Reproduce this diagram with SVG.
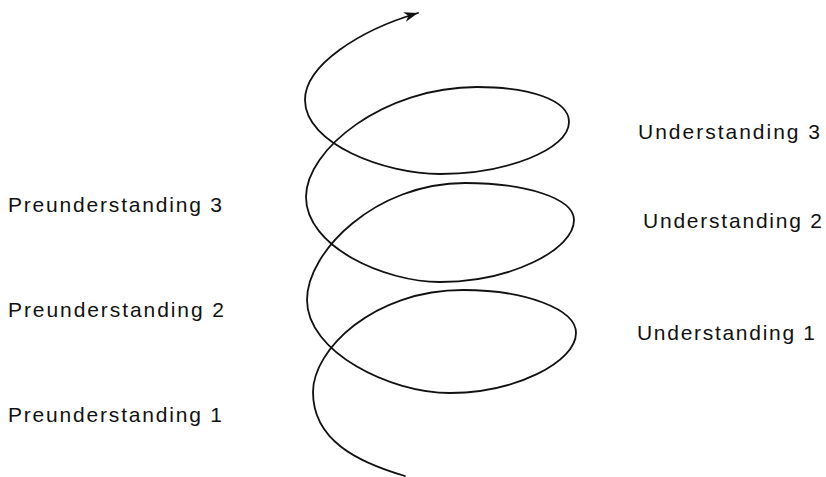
<svg xmlns="http://www.w3.org/2000/svg" width="826" height="477" viewBox="0 0 826 477">
  <style>
    .lbl { font-family: "Liberation Sans", Arial, sans-serif; font-size: 21px; fill: #111; }
    .spiral { fill: none; stroke: #111; stroke-width: 1.8; stroke-linecap: round; stroke-linejoin: round; }
  </style>
  <defs>
    <marker id="arrow" markerUnits="userSpaceOnUse" markerWidth="16" markerHeight="12" refX="14" refY="6" orient="auto">
      <path d="M0,1 L14,6 L0,11 L4,6 z" fill="#111"/>
    </marker>
  </defs>
  <rect width="826" height="477" fill="#fff"/>
  <g id="connectors">
    <path class="spiral" marker-end="url(#arrow)" d="M405,476 C357,462 313,440 313,392 C313,350 373,290 463,290 C525,290 576,309 576,333 C576,362 515,393 450,393 C390,393 307,352 307,300 C307,252 375,183 465,183 C525,183 574,198 574,220 C574,250 510,282 440,282 C385,282 306,247 306,197 C306,150 383,87 477,87 C530,87 569,100 569,122 C569,150 505,174 440,174 C385,174 305,144 305,100 C305,65 360,30 418,13"/>
  </g>
  <g id="pre3"><text class="lbl" x="8" y="212" textLength="214">Preunderstanding 3</text></g>
  <g id="pre2"><text class="lbl" x="8" y="317" textLength="216">Preunderstanding 2</text></g>
  <g id="pre1"><text class="lbl" x="8" y="422" textLength="214">Preunderstanding 1</text></g>
  <g id="und3"><text class="lbl" x="638" y="139" textLength="182">Understanding 3</text></g>
  <g id="und2"><text class="lbl" x="643" y="228" textLength="179">Understanding 2</text></g>
  <g id="und1"><text class="lbl" x="637" y="340" textLength="178">Understanding 1</text></g>
</svg>
